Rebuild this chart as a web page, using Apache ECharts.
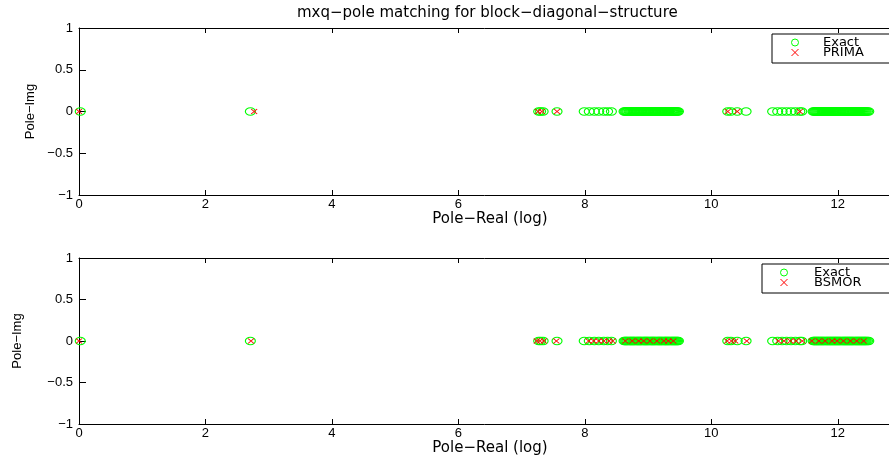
<!DOCTYPE html>
<html><head><meta charset="utf-8">
<script src="https://cdn.jsdelivr.net/npm/echarts@6/dist/echarts.min.js"></script>
<style>html,body{margin:0;padding:0;background:#fff}#c{width:889px;height:456px}</style>
</head><body><div id="c"></div>
<script>
// ---------------- data ----------------
const titleText = 'mxq\u2212pole matching for block\u2212diagonal\u2212structure';
const xAxisName = 'Pole\u2212Real (log)';
const yAxisName = 'Pole\u2212Img';
const legendTop = ['Exact', 'PRIMA'];
const legendBottom = ['Exact', 'BSMOR'];
const xTickStep = 2;      // x ticks 0,2,...,12
const yTickStep = 0.5;    // y ticks -1,-0.5,0,0.5,1

// real parts (log scale) of the exact poles
const exactReal = [
  0.02, 2.71,
  7.27, 7.30, 7.34, 7.56,
  7.99, 8.07, 8.15, 8.22, 8.30, 8.36, 8.42,
  8.62, 8.635, 8.65, 8.665, 8.68, 8.70, 8.715, 8.73, 8.745, 8.76, 8.775, 8.79,
  8.81, 8.825, 8.84, 8.855, 8.87, 8.885, 8.90, 8.92, 8.935, 8.95, 8.965, 8.98,
  8.995, 9.01, 9.03, 9.045, 9.06, 9.075, 9.09, 9.105, 9.12, 9.14, 9.155, 9.17,
  9.185, 9.20, 9.215, 9.23, 9.25, 9.265, 9.28, 9.295, 9.31, 9.325, 9.34, 9.36,
  9.375, 9.39, 9.405, 9.42, 9.435, 9.45, 9.465, 9.48,
  10.26, 10.31, 10.41, 10.55,
  10.97, 11.05, 11.12, 11.19, 11.26, 11.33, 11.40, 11.43,
  11.61, 11.625, 11.64, 11.655, 11.67, 11.685, 11.70, 11.715, 11.73, 11.745,
  11.76, 11.775, 11.79, 11.81, 11.825, 11.84, 11.855, 11.87, 11.885, 11.90,
  11.915, 11.93, 11.945, 11.96, 11.975, 11.99, 12.005, 12.02, 12.035, 12.05,
  12.07, 12.085, 12.10, 12.115, 12.13, 12.145, 12.16, 12.175, 12.19, 12.205,
  12.22, 12.235, 12.25, 12.27, 12.285, 12.30, 12.315, 12.33, 12.345, 12.36,
  12.375, 12.39, 12.405, 12.42, 12.435, 12.45, 12.47, 12.49
];
// real parts of the PRIMA reduced-model poles
const primaReal = [0.00, 2.77, 7.26, 7.32, 7.56, 10.26, 10.41, 11.40];
// real parts of the BSMOR reduced-model poles
const bsmorReal = [
  0.00, 2.72, 7.24, 7.29, 7.35, 7.55,
  8.06, 8.14, 8.22, 8.30, 8.38, 8.44,
  8.64, 8.75, 8.85, 8.93, 9.03, 9.14, 9.25, 9.32, 9.40,
  10.25, 10.32, 10.38, 10.56,
  11.06, 11.15, 11.25, 11.34, 11.44,
  11.59, 11.70, 11.80, 11.91, 11.99, 12.09, 12.20, 12.30, 12.41
];
const poleImag = 0; // every pole lies on the real axis (imaginary part 0)

// ---------------- styles ----------------
const tickFont = 'Liberation Sans';
const textFont = 'DejaVu Sans';
const titleSize = 15;
const exactColor = '#00ff00';
const modelColor = '#ff0000';
const circleSym = 'path://M0,5A5,5 0 1,1 10,5A5,5 0 1,1 0,5Z';
const crossSym = 'path://M0,0L10,10M0,10L10,0';
const minusFmt = v => String(v).replace('-', '\u2212');
const hollow = c => ({ color: 'rgba(0,0,0,0)', borderColor: c, borderWidth: 1, opacity: 1 });

// centre the title over the plot area
const mctx = document.createElement('canvas').getContext('2d');
mctx.font = titleSize + 'px "' + textFont + '"';
const titleW = mctx.measureText(titleText).width;
const titleLeft = Math.round(487 - titleW / 2);

function xAx(gridIndex, isTop) {
  return {
    type: 'value', gridIndex, position: isTop ? 'top' : 'bottom',
    min: 0, max: 13, interval: xTickStep,
    name: isTop ? '' : xAxisName, nameLocation: 'middle', nameGap: 16,
    nameTextStyle: { fontFamily: textFont, fontSize: 15, color: '#000' },
    axisLine: { show: true, onZero: false, lineStyle: { color: '#000', width: 1 } },
    axisTick: { show: true, inside: true, length: 5, lineStyle: { color: '#000' } },
    axisLabel: { show: !isTop, margin: 3, showMaxLabel: false, color: '#000', fontFamily: tickFont, fontSize: 13 },
    splitLine: { show: false }
  };
}
function yAx(gridIndex, gap) {
  return {
    type: 'value', gridIndex, min: -1, max: 1, interval: yTickStep,
    name: yAxisName, nameLocation: 'middle', nameGap: gap, nameRotate: 90,
    nameTextStyle: { fontFamily: tickFont, fontSize: 13, color: '#000' },
    axisLine: { show: true, onZero: false, lineStyle: { color: '#000', width: 1 } },
    axisTick: { show: true, inside: true, length: 7, lineStyle: { color: '#000' } },
    axisLabel: { margin: 6, color: '#000', fontFamily: tickFont, fontSize: 13, formatter: minusFmt },
    splitLine: { show: false }
  };
}
function sc(name, values, idx, isExact) {
  return {
    name, type: 'scatter', xAxisIndex: idx * 2, yAxisIndex: idx,
    data: values.map(r => [r, poleImag]),
    symbol: isExact ? circleSym : crossSym,
    symbolSize: isExact ? [10, 7.5] : [6, 5],
    itemStyle: hollow(isExact ? exactColor : modelColor),
    emphasis: { disabled: true }, silent: true, clip: false
  };
}
function lg(left, top, itemWidth, padLeft, names) {
  return {
    orient: 'vertical', left, top, padding: [2, 34, 4, padLeft], itemGap: -3,
    itemWidth, itemHeight: 7, selectedMode: false,
    data: [
      { name: names[0], icon: circleSym, itemStyle: hollow(exactColor) },
      { name: names[1], icon: crossSym, itemStyle: hollow(modelColor) }
    ],
    borderColor: '#000', borderWidth: 1, backgroundColor: '#fff', borderRadius: 0,
    textStyle: { fontFamily: textFont, fontSize: 13, color: '#000' }
  };
}

const chart = echarts.init(document.getElementById('c'), null, { renderer: 'canvas' });
chart.setOption({
  animation: false,
  backgroundColor: '#fff',
  title: {
    text: titleText, left: titleLeft, top: 6, padding: 0,
    textStyle: { fontFamily: textFont, fontSize: titleSize, fontWeight: 'normal', color: '#000' }
  },
  grid: [
    { left: 79, top: 28, width: 822, height: 167, outerBoundsMode: 'none', containLabel: false },
    { left: 79, top: 258, width: 822, height: 166, outerBoundsMode: 'none', containLabel: false }
  ],
  xAxis: [xAx(0, false), xAx(0, true), xAx(1, false), xAx(1, true)],
  yAxis: [yAx(0, 42), yAx(1, 55)],
  legend: [lg(772, 34, 46, 19, legendTop), lg(762, 264, 50, 18, legendBottom)],
  series: [
    sc('Exact', exactReal, 0, true),
    sc('PRIMA', primaReal, 0, false),
    sc('Exact', exactReal, 1, true),
    sc('BSMOR', bsmorReal, 1, false)
  ]
});
</script></body></html>
